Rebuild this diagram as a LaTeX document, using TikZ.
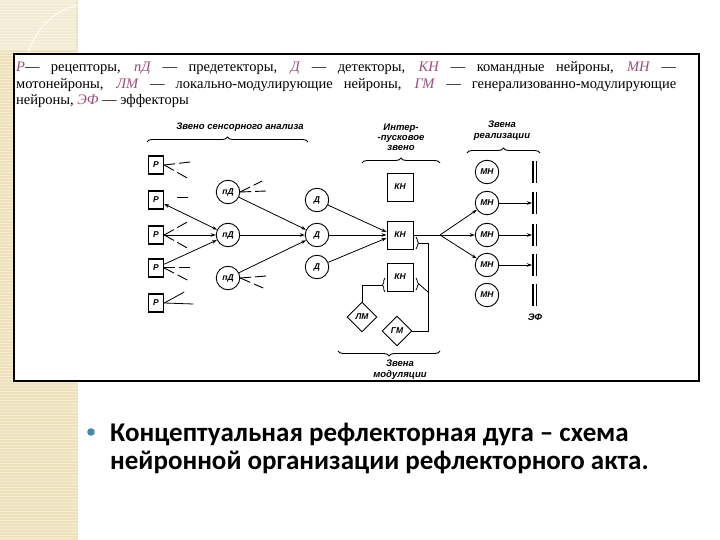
\documentclass[tikz,border=0pt]{standalone}
\usepackage{fontspec}
\setmainfont{Liberation Serif}
\newfontfamily\hand{Liberation Sans}
\newfontfamily\calfont{Carlito}
\usetikzlibrary{shapes.geometric,decorations.pathreplacing,arrows.meta,calc}
\definecolor{beige}{HTML}{EEE1BC}
\definecolor{labc}{HTML}{9A4C7C}
\definecolor{bul}{HTML}{3F8FAA}
\newcommand\lb[1]{\textcolor{labc}{\textit{#1}}}
\begin{document}
\begin{tikzpicture}[x=1pt,y=-1pt,
 hf/.style={font=\hand\itshape\bfseries\fontsize{8.5}{9}\selectfont},
 rec/.style={draw,line width=1.5pt,minimum width=15pt,minimum height=18pt,inner sep=0pt,hf},
 neur/.style={draw,circle,line width=0.9pt,minimum size=23.5pt,inner sep=0pt,hf},
 knbox/.style={draw,line width=0.9pt,minimum width=26pt,minimum height=28pt,inner sep=0pt,hf},
 modn/.style={draw,diamond,line width=0.9pt,minimum width=30pt,minimum height=30pt,inner sep=0pt,hf},
 arr/.style={-{Stealth[length=5pt,width=3.5pt]},line width=0.8pt},
 darr/.style={{Stealth[length=5pt,width=3.5pt]}-{Stealth[length=5pt,width=3.5pt]},line width=0.8pt},
 ln/.style={line width=0.8pt},
 dsh/.style={line width=0.9pt,dash pattern=on 11pt off 4pt},
 brc/.style={decorate,decoration={brace,amplitude=5pt},line width=0.9pt},
 curl/.style={decorate,decoration={brace,amplitude=2.5pt},line width=0.8pt},
 ttl/.style={font=\hand\itshape\bfseries\fontsize{9.5}{10}\selectfont,inner sep=0pt,align=center},
 bar/.style={line width=1.4pt}
]
\useasboundingbox (0,0) rectangle (720,540);
% decorative strip
\fill[beige] (0,0) rectangle (78,540);
\foreach \yy in {1,4,...,540} \draw[white,opacity=0.4,line width=0.7pt] (0,\yy) -- (78,\yy);
\fill[white,opacity=0.35] (0,0) rectangle (76,50);
\draw[white,opacity=0.8,line width=1pt] (28,52) .. controls (40,22) and (58,10) .. (78,5);
% framed box
\draw[line width=2pt,fill=white] (14,54) rectangle (699,381);
% legend
\node[anchor=base west,inner sep=0pt] (l1) at (16,72) {\fontsize{14.5}{16}\selectfont\makebox[660pt][s]{\lb{Р}— рецепторы, \lb{пД} — предетекторы, \lb{Д} — детекторы, \lb{КН} — командные нейроны, \lb{МН} —}};
\node[anchor=base west,inner sep=0pt] (l2) at (16,88.5) {\fontsize{14.5}{16}\selectfont\makebox[660pt][s]{мотонейроны, \lb{ЛМ} — локально-модулирующие нейроны, \lb{ГМ} — генерализованно-модулирующие}};
\node[anchor=base west,inner sep=0pt] (l3) at (16,105) {\fontsize{14.5}{16}\selectfont нейроны, \lb{ЭФ} — эффекторы};
% titles and braces
\node[ttl] (t1) at (240,127) {Звено сенсорного анализа};
\draw[brc] (147,142) -- (308,142);
\node[ttl,align=center] (t2) at (401,137) {Интер-\\[0pt]-пусковое\\[0pt]звено};
\draw[brc] (362,163) -- (440,163);
\node[ttl] (t3) at (502,131) {Звена\\[1pt]реализации};
\draw[brc] (467,153) -- (540,153);
\draw[brc] (440,351) -- (338,351);
\node[ttl] (t4) at (400,370) {Звена\\[1pt]модуляции};
% receptors
\node[rec] (p1) at (156,165) {Р};
\node[rec] (p2) at (156,200) {Р};
\node[rec] (p3) at (156,235) {Р};
\node[rec] (p4) at (156,268) {Р};
\node[rec] (p5) at (156,303) {Р};
% predetectors
\node[neur] (pd1) at (228,192) {пД};
\node[neur] (pd2) at (228,235) {пД};
\node[neur] (pd3) at (228,278) {пД};
% detectors
\node[neur] (d1) at (317,200) {Д};
\node[neur] (d2) at (317,235) {Д};
\node[neur] (d3) at (317,267) {Д};
% command neurons
\node[knbox] (k1) at (400,187) {КН};
\node[knbox] (k2) at (400,235) {КН};
\node[knbox] (k3) at (400,277) {КН};
% modulators
\node[modn] (lm) at (362,317) {ЛМ};
\node[modn] (gm) at (397,331) {ГМ};
% motoneurons
\node[neur] (m1) at (487,172) {МН};
\node[neur] (m2) at (487,203) {МН};
\node[neur] (m3) at (487,235) {МН};
\node[neur] (m4) at (487,265) {МН};
\node[neur] (m5) at (487,295) {МН};
% effectors
\foreach \i/\yy in {1/172,2/203,3/235,4/265,5/295}{
  \coordinate (e\i) at (532,\yy);
  \draw[bar] (533,\yy-11) -- (533,\yy+11);
  \draw[bar] (536.5,\yy-11) -- (536.5,\yy+11);
}
\node[ttl] (ef) at (535,317) {ЭФ};
% receptor side inputs
\draw[dsh] (p1.east) -- ++(26,-3);
\draw[dsh] (p1.east) -- ++(23,13);
\draw[dsh] ($(p2.east)+(13,-3)$) -- ++(13,0);
\draw[dsh] (p3.east) -- ++(23,-13);
\draw[dsh] (p3.east) -- ++(23,13);
\draw[dsh] ($(p4.east)+(0,-1)$) -- ++(26,0);
\draw[dsh] (p4.east) -- ++(23,12);
\draw[ln] (p5.east) -- ++(20,-11);
\draw[ln] (p5.east) -- ++(29,1);
% receptors -> predetector
\draw[darr] (p2) -- (pd2);
\draw[arr] (p3) -- (pd2);
\draw[arr] (p4) -- (pd2);
% predetector side inputs
\draw[dsh] (pd1.east) -- ++(22,-11);
\draw[dsh] (pd1.east) -- ++(26,-1);
\draw[dsh] (pd3.east) -- ++(26,-2);
\draw[dsh] (pd3.east) -- ++(23,10);
% predetectors -> detector
\draw[arr] (pd1) -- (d2);
\draw[arr] (pd2) -- (d2);
\draw[arr] (pd3) -- (d2);
% detectors -> command neuron
\draw[arr] (d1) -- ($(k2.west)+(0,-3)$);
\draw[arr] (d2) -- (k2.west);
\draw[arr] (d3) -- ($(k2.west)+(0,3)$);
% command neuron -> motoneurons
\coordinate (br) at (440,235);
\draw[ln] (k2.east) -- (br);
\draw[arr] (br) -- (m2);
\draw[arr] (br) -- (m3);
\draw[arr] (br) -- (m4);
% motoneurons -> effectors
\draw[arr] (m2) -- (e2);
\draw[arr] (m3) -- (e3);
\draw[arr] (m4) -- (e4);
% modulation
\coordinate (lmc) at (382,285);
\draw[ln] (lm.north) -- (362,285) -- (lmc);
\draw[curl] (385,292) -- (385,278);
\coordinate (gmc) at (419,243);
\draw[ln] (gm.east) -- (428,331) -- (428,243) -- (gmc);
\draw[curl] (416,237) -- (416,249);
\coordinate (gmc2) at (419,284);
\draw[ln] (428,292) -- (gmc2);
\draw[curl] (416,278) -- (416,290);
% bottom caption
\fill[bul] (91,432) circle (3.8);
\node[anchor=base west,inner sep=0pt] (c1) at (110,441) {\calfont\bfseries\fontsize{27}{30}\selectfont Концептуальная рефлекторная дуга – схема};
\node[anchor=base west,inner sep=0pt] (c2) at (110,469) {\calfont\bfseries\fontsize{27}{30}\selectfont нейронной организации рефлекторного акта.};
\end{tikzpicture}
\end{document}
